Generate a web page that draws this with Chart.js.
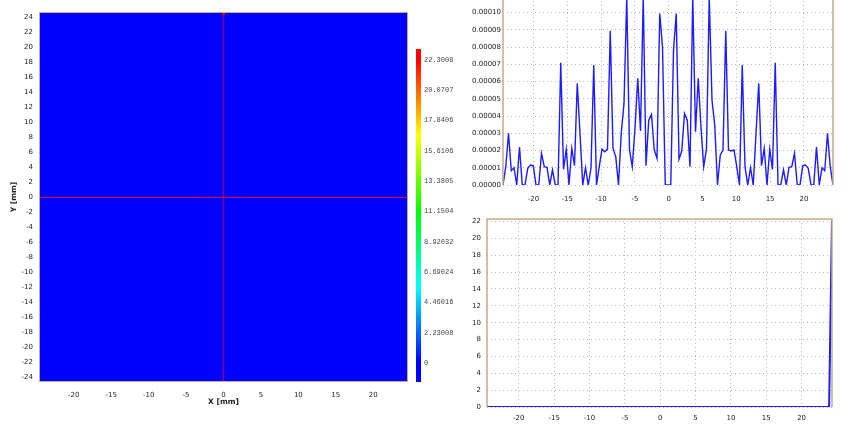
<!DOCTYPE html>
<html>
<head>
<meta charset="utf-8">
<title>Beam profile</title>
<script src="https://cdn.jsdelivr.net/npm/chart.js@4.4.1/dist/chart.umd.min.js"></script>
<style>
  html, body { margin: 0; padding: 0; background: #fff; overflow: hidden; }
  body { width: 842px; height: 429px; position: relative; }
  canvas { position: absolute; }
  #map { left: 0; top: 0; }
  #bar { left: 405px; top: 0; }
  #profX { left: 462px; top: -10px; }
  #profY { left: 440px; top: 205px; }
</style>
</head>
<body>
<canvas id="map" width="412" height="429"></canvas>
<canvas id="bar" width="65" height="429"></canvas>
<canvas id="profX" width="380" height="215"></canvas>
<canvas id="profY" width="402" height="224"></canvas>
<script>
// --- map (X/Y in mm) ---
const mapXTicks = [-20, -15, -10, -5, 0, 5, 10, 15, 20];
const mapYTicks = [-24, -22, -20, -18, -16, -14, -12, -10, -8, -6, -4, -2, 0,
                   2, 4, 6, 8, 10, 12, 14, 16, 18, 20, 22, 24];
const mapHalfSpan = 24.65;
const mapCells = 121;
const mapBase = 0;
const mapPeaks = [{ x: 0, y: 24.45, v: 22.3008 }];
const cursorX = 0;
const cursorY = 0;

// --- colour bar ---
const barTicks = [0, 2.23008, 4.46016, 6.69024, 8.92032, 11.1504, 13.3805, 15.6106, 17.8406, 20.0707, 22.3008];
const barLabels = ['0', '2.23008', '4.46016', '6.69024', '8.92032', '11.1504', '13.3805', '15.6106', '17.8406', '20.0707', '22.3008'];
const barMin = 0;
const barMax = 22.3008;
const barRange = [-1.4, 23.1];

// --- profiles ---
const profileStartX = -24.5;
const profileEndX = 24.3;
const profileXTicks = [-20, -15, -10, -5, 0, 5, 10, 15, 20];

// profile along X at Y = cursorY, values x 1e-5
const profileAlongX = [
  0, 1.06, 3.0, 0.83, 1.0, 0, 2.2, 0, 0, 0.97, 1.16, 1.12, 0, 0, 1.83, 1.06, 1.02, 0, 0.87, 0,
  0, 7.08, 0.91, 2.07, 0, 2.12, 1.12, 5.89, 3.0, 0, 1.0, 0, 0.97, 6.95, 0, 1.06, 2.08, 1.93, 2.08, 8.94,
  2.12, 1.64, 0, 3.0, 4.73, 10.9, 2.03, 1.06, 3.3, 6.18, 3.13, 10.9, 1.12, 3.76, 4.09, 2.03, 1.54, 9.94, 8.0, 0,
  0, 0, 7.8, 9.94, 1.5, 1.97, 4.15, 3.76, 1.06, 10.9, 3.09, 6.18, 3.3, 1.06, 2.12, 10.9, 4.92, 3.47, 0, 1.74,
  2.03, 8.94, 2.03, 1.97, 2.03, 1.06, 0, 6.95, 1.06, 0, 1.0, 0, 3.0, 5.89, 1.12, 2.12, 0, 2.07, 0.91, 7.08,
  0, 0, 0.87, 0, 1.02, 1.06, 1.83, 0, 0, 1.12, 1.16, 0.97, 0, 0, 2.2, 0, 1.0, 0.83, 3.0, 1.06,
  0
];
const profileAlongXTicks = [0, 0.00001, 0.00002, 0.00003, 0.00004, 0.00005, 0.00006, 0.00007, 0.00008, 0.00009, 0.00010];

// profile along Y at X = cursorX
const profileAlongY = [
  0, 0, 0, 0, 0, 0, 0, 0, 0, 0, 0, 0, 0, 0, 0, 0, 0, 0, 0, 0,
  0, 0, 0, 0, 0, 0, 0, 0, 0, 0, 0, 0, 0, 0, 0, 0, 0, 0, 0, 0,
  0, 0, 0, 0, 0, 0, 0, 0, 0, 0, 0, 0, 0, 0, 0, 0, 0, 0, 0, 0,
  0, 0, 0, 0, 0, 0, 0, 0, 0, 0, 0, 0, 0, 0, 0, 0, 0, 0, 0, 0,
  0, 0, 0, 0, 0, 0, 0, 0, 0, 0, 0, 0, 0, 0, 0, 0, 0, 0, 0, 0,
  0, 0, 0, 0, 0, 0, 0, 0, 0, 0, 0, 0, 0, 0, 0, 0, 0, 0, 0, 0,
  22.3008
];
const profileAlongYTicks = [0, 2, 4, 6, 8, 10, 12, 14, 16, 18, 20, 22];

const tickFont = { family: 'DejaVu Sans', size: 7 };
const titleFont = { family: 'DejaVu Sans', size: 7.5, weight: 'bold' };
const tickColor = '#222';
const gridColor = '#b8b8b8';
const frameColor = '#c9a985';

function jet(v) {
  const t = Math.min(1, Math.max(0, (v - barMin) / (barMax - barMin)));
  return 'hsl(' + (240 * (1 - t)) + ', 100%, 50%)';
}

const setTicks = vals => scale => { scale.ticks = vals.map(v => ({ value: v })); };

const heatPlugin = {
  id: 'heat',
  beforeDatasetsDraw(chart) {
    const { ctx, chartArea: a, scales: { x, y } } = chart;
    const cell = 2 * mapHalfSpan / mapCells;
    ctx.save();
    ctx.beginPath();
    ctx.rect(a.left, a.top, a.width, a.height);
    ctx.clip();
    const l = x.getPixelForValue(-mapHalfSpan), r = x.getPixelForValue(mapHalfSpan);
    const t = y.getPixelForValue(mapHalfSpan), b = y.getPixelForValue(-mapHalfSpan);
    ctx.fillStyle = jet(mapBase);
    ctx.fillRect(l, t, r - l, b - t);
    mapPeaks.forEach(p => {
      const x0 = x.getPixelForValue(p.x - cell / 2), x1 = x.getPixelForValue(p.x + cell / 2);
      const y0 = y.getPixelForValue(p.y + cell / 2), y1 = y.getPixelForValue(p.y - cell / 2);
      ctx.fillStyle = jet(p.v);
      ctx.fillRect(x0, y0, x1 - x0, y1 - y0);
    });
    // cursor cross
    const cy = Math.round(y.getPixelForValue(cursorY)) + 0.5;
    ctx.strokeStyle = 'rgb(230, 0, 40)';
    ctx.lineWidth = 1;
    ctx.beginPath(); ctx.moveTo(l, cy); ctx.lineTo(r, cy); ctx.stroke();
    const cx = x.getPixelForValue(cursorX);
    ctx.strokeStyle = 'rgba(200, 0, 90, 0.7)';
    ctx.lineWidth = 1.5;
    ctx.beginPath(); ctx.moveTo(cx, t); ctx.lineTo(cx, b); ctx.stroke();
    ctx.restore();
    ctx.save();
    ctx.strokeStyle = frameColor;
    ctx.lineWidth = 1;
    ctx.strokeRect(a.left + 0.5, a.top + 0.5, a.width - 1, a.height - 1);
    ctx.restore();
  }
};

const framePlugin = {
  id: 'frame',
  afterDatasetsDraw(chart) {
    const { ctx, chartArea: a } = chart;
    ctx.save();
    ctx.strokeStyle = frameColor;
    ctx.lineWidth = 1.5;
    ctx.beginPath();
    ctx.moveTo(a.left, a.bottom);
    ctx.lineTo(a.left, a.top);
    ctx.lineTo(a.right, a.top);
    ctx.lineTo(a.right, a.bottom);
    ctx.stroke();
    ctx.restore();
  }
};

// heat map
new Chart(document.getElementById('map'), {
  type: 'scatter',
  data: { datasets: [] },
  options: {
    animation: false,
    responsive: false,
    layout: { padding: { top: 12, right: 4, left: 0, bottom: 0 } },
    plugins: { legend: { display: false }, tooltip: { enabled: false } },
    scales: {
      x: {
        type: 'linear', min: -mapHalfSpan, max: mapHalfSpan,
        afterBuildTicks: setTicks(mapXTicks),
        afterFit: s => { s.height = 47; },
        grid: { display: false, drawTicks: false },
        border: { display: false },
        ticks: { font: tickFont, color: tickColor, padding: 9, maxRotation: 0, autoSkip: false },
        title: { display: true, text: 'X [mm]', font: titleFont, color: '#222', padding: { top: 0, bottom: 22 } }
      },
      y: {
        type: 'linear', min: -mapHalfSpan, max: mapHalfSpan,
        afterBuildTicks: setTicks(mapYTicks),
        afterFit: s => { s.width = 39; },
        grid: { display: false, drawTicks: false },
        border: { display: false },
        ticks: { font: tickFont, color: tickColor, padding: 6, autoSkip: false },
        title: { display: true, text: 'Y [mm]', font: titleFont, color: '#222', padding: { top: 9.5, bottom: 0 } }
      }
    }
  },
  plugins: [heatPlugin]
});

// colour bar
new Chart(document.getElementById('bar'), {
  type: 'bar',
  data: {
    labels: [''],
    datasets: [{
      data: [barRange],
      barPercentage: 1,
      categoryPercentage: 1,
      borderWidth: 0,
      backgroundColor(c) {
        const chart = c.chart;
        if (!chart.chartArea) return jet(barMin);
        const ys = chart.scales.y;
        const g = chart.ctx.createLinearGradient(0, ys.getPixelForValue(barMin), 0, ys.getPixelForValue(barMax));
        for (let k = 0; k <= 8; k++) g.addColorStop(k / 8, jet(barMin + (k / 8) * (barMax - barMin)));
        return g;
      }
    }]
  },
  options: {
    animation: false,
    responsive: false,
    layout: { padding: { left: 11, top: 49, bottom: 47, right: 0 } },
    plugins: { legend: { display: false }, tooltip: { enabled: false } },
    scales: {
      x: { display: false },
      y: {
        position: 'right', min: barRange[0], max: barRange[1],
        afterBuildTicks: setTicks(barTicks),
        afterFit: s => { s.width = 49; },
        grid: { display: false, drawTicks: false },
        border: { display: false },
        ticks: { font: { family: 'Liberation Mono', size: 7 }, color: '#444', padding: 3, autoSkip: false,
                 callback: (v, i) => barLabels[i] }
      }
    }
  }
});

// profiles
const profileX = profileAlongX.map((_, i) =>
  profileStartX + i * (profileEndX - profileStartX) / (profileAlongX.length - 1));

function profileChart(id, values, yTicks, yFmt, cfg) {
  return new Chart(document.getElementById(id), {
    type: 'line',
    data: {
      datasets: [{
        data: values.map((v, i) => ({ x: profileX[i], y: v })),
        borderColor: '#1c1cff',
        borderWidth: cfg.lineWidth,
        pointRadius: 0,
        tension: 0,
        fill: false
      }]
    },
    options: {
      animation: false,
      responsive: false,
      layout: { padding: { top: cfg.padTop, right: cfg.padRight, left: 0, bottom: 0 } },
      plugins: { legend: { display: false }, tooltip: { enabled: false } },
      scales: {
        x: {
          type: 'linear', min: profileX[0], max: profileX[profileX.length - 1],
          afterBuildTicks: setTicks(profileXTicks),
          afterFit: s => { s.height = cfg.bottomH; },
          grid: { color: gridColor, drawTicks: false },
          border: { display: false, dash: [1, 3] },
          ticks: { font: tickFont, color: tickColor, padding: cfg.xPad, maxRotation: 0, autoSkip: false }
        },
        y: {
          type: 'linear', min: 0, max: Math.max(...values),
          afterBuildTicks: setTicks(yTicks),
          afterFit: s => { s.width = cfg.leftW; },
          grid: { color: gridColor, drawTicks: false },
          border: { display: false, dash: [1, 3] },
          ticks: { font: tickFont, color: tickColor, padding: cfg.yPad, autoSkip: false, callback: yFmt }
        }
      }
    },
    plugins: [framePlugin]
  });
}

profileChart('profX', profileAlongX.map(v => v * 1e-5), profileAlongXTicks, v => v.toFixed(5),
  { padTop: 7, padRight: 9, leftW: 41, bottomH: 20, xPad: 10, yPad: 2, lineWidth: 1.4 });

profileChart('profY', profileAlongY, profileAlongYTicks, v => String(v),
  { padTop: 14, padRight: 10, leftW: 47, bottomH: 22, xPad: 7, yPad: 6, lineWidth: 2 });
</script>
</body>
</html>
